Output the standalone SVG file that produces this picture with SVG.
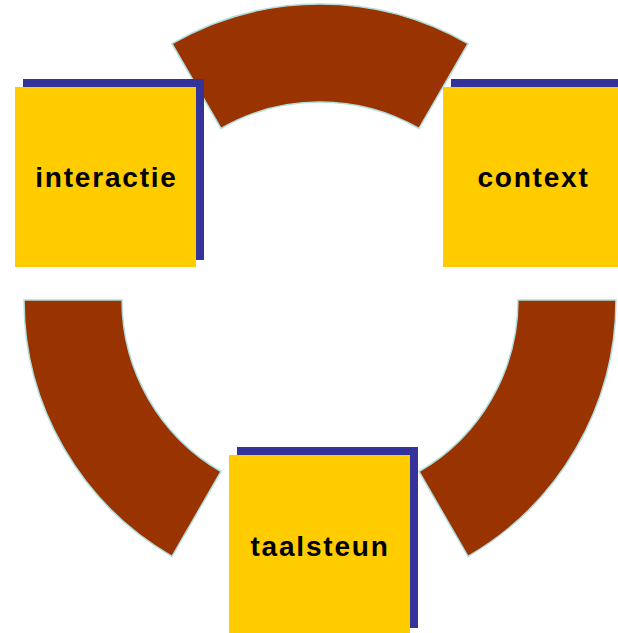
<svg xmlns="http://www.w3.org/2000/svg" width="618" height="633" viewBox="0 0 618 633">
  <style>
    .seg { fill: #993300; stroke: #b0dede; stroke-width: 1.5; stroke-linejoin: miter; }
    .shadow { fill: #333399; }
    .box { fill: #FFCC00; }
    .label { font-family: "Liberation Sans", Arial, sans-serif; font-weight: bold; font-size: 28px; letter-spacing: 1.8px; fill: #000000; text-anchor: middle; }
  </style>
  <rect width="618" height="633" fill="#ffffff"/>
  <g id="connectors">
    <path class="seg" d="M 172,43.7 A 296 296 0 0 1 468,43.7 L 419,128.5 A 198 198 0 0 0 221,128.5 Z"/>
    <path class="seg" d="M 616,300 A 296 296 0 0 1 468,556.3 L 419,471.5 A 198 198 0 0 0 518,300 Z"/>
    <path class="seg" d="M 172,556.3 A 296 296 0 0 1 24,300 L 122,300 A 198 198 0 0 0 221,471.5 Z"/>
  </g>
  <g id="node-interactie">
    <rect class="shadow" x="23" y="79" width="181" height="181"/>
    <rect class="box" x="15" y="87" width="181" height="180"/>
    <text class="label" x="106.5" y="187">interactie</text>
  </g>
  <g id="node-context">
    <rect class="shadow" x="451" y="79" width="181" height="181"/>
    <rect class="box" x="443" y="87" width="181" height="180"/>
    <text class="label" x="533.5" y="187">context</text>
  </g>
  <g id="node-taalsteun">
    <rect class="shadow" x="237" y="447" width="181" height="181"/>
    <rect class="box" x="229" y="455" width="181" height="180"/>
    <text class="label" x="320" y="556">taalsteun</text>
  </g>
</svg>
